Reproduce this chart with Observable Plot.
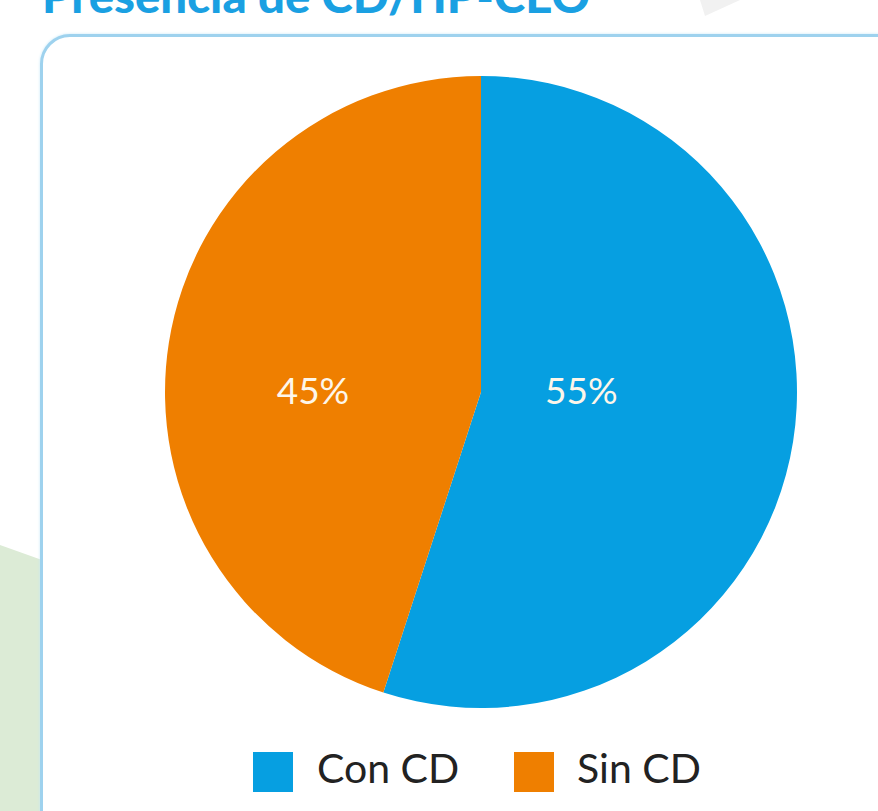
<!DOCTYPE html>
<html>
<head>
<meta charset="utf-8">
<script src="https://cdn.jsdelivr.net/npm/d3@7"></script>
<script src="https://cdn.jsdelivr.net/npm/@observablehq/plot@0.6"></script>
<style>
  html, body { margin: 0; padding: 0; background: #fff; }
  body { width: 878px; height: 811px; position: relative; overflow: hidden; font-family: Lato, "Open Sans", sans-serif; }
  #green { position: absolute; left: 0; top: 0; width: 878px; height: 811px; background: #dcebd6;
           clip-path: polygon(0 545px, 42px 560px, 42px 811px, 0 811px); }
  #grey { position: absolute; left: 0; top: 0; width: 878px; height: 811px; background: #f1f1f1;
          clip-path: polygon(700px 0, 740px 0, 705px 16px); }
  #card { position: absolute; left: 40px; top: 34px; width: 1000px; height: 1000px; box-sizing: border-box;
          border: 3px solid #9ed2ee; border-radius: 30px; background: #fff; box-shadow: 0 0 3px #c7e8f8; }
  #title { position: absolute; left: 0; top: 0; }
  #chart { position: absolute; left: 0; top: 0; }
  .legend { position: absolute; top: 752px; display: flex; align-items: center; }
  .sw { position: absolute; width: 40px; height: 40px; top: 752px; }
  .lt { position: absolute; top: 738px; font-size: 41px; line-height: 60px; color: #222; font-family: Lato, sans-serif; }
</style>
</head>
<body>
<div id="green"></div>
<div id="grey"></div>
<div id="card"></div>
<svg id="title" width="878" height="40"><text x="42" y="13" font-family="Lato, sans-serif" font-weight="900" font-size="46" fill="#1aa0e2" textLength="548" lengthAdjust="spacingAndGlyphs">Presencia de CD/HP-CEO</text></svg>
<div id="chart"></div>
<div id="legend"></div>
<script>
// Data
const categories = ["Con CD", "Sin CD"];
const values = [55, 45];
const labels = ["55%", "45%"];
const colors = ["#069fe1", "#ef7f00"];

// Presentation config (not data)
const labelRadius = [0.32, 0.54];

const data = categories.map((c, i) => ({category: c, value: values[i], label: labels[i]}));
const arcs = d3.pie().sort(null).value(d => d.value)(data);
const labelData = arcs.map((a, i) => {
  const mid = (a.startAngle + a.endAngle) / 2;
  return {category: a.data.category, label: a.data.label, lx: Math.sin(mid) * labelRadius[i], ly: 0};
});

function pieMark(index, scales, values_, dimensions) {
  const cx = scales.x(0), cy = scales.y(0);
  const r = Math.abs(scales.x(1) - scales.x(0));
  const g = d3.create("svg:g").attr("transform", `translate(${cx},${cy})`);
  const arc = d3.arc().innerRadius(0).outerRadius(r);
  g.selectAll("path").data(arcs).join("path")
    .attr("d", arc)
    .attr("fill", d => scales.color(d.data.category));
  return g.node();
}

const chart = Plot.plot({
  width: 878,
  height: 720,
  marginLeft: 165,
  marginRight: 81,
  marginTop: 76,
  marginBottom: 12,
  x: {domain: [-1, 1], axis: null},
  y: {domain: [-1, 1], axis: null},
  color: {domain: categories, range: colors},
  style: {background: "transparent", overflow: "visible"},
  marks: [
    pieMark,
    Plot.text(labelData, {x: "lx", y: "ly", text: "label", fill: "#fdf6ea", fontSize: 37,
      fontFamily: "Lato, sans-serif"})
  ]
});
document.getElementById("chart").appendChild(chart);

// Legend
const legend = document.getElementById("legend");
const swX = [253, 514], txX = [317, 577];
categories.forEach((c, i) => {
  const sw = document.createElement("div");
  sw.className = "sw"; sw.style.left = swX[i] + "px"; sw.style.background = colors[i];
  legend.appendChild(sw);
  const t = document.createElement("div");
  t.className = "lt"; t.style.left = txX[i] + "px"; t.textContent = c;
  legend.appendChild(t);
});
</script>
</body>
</html>
